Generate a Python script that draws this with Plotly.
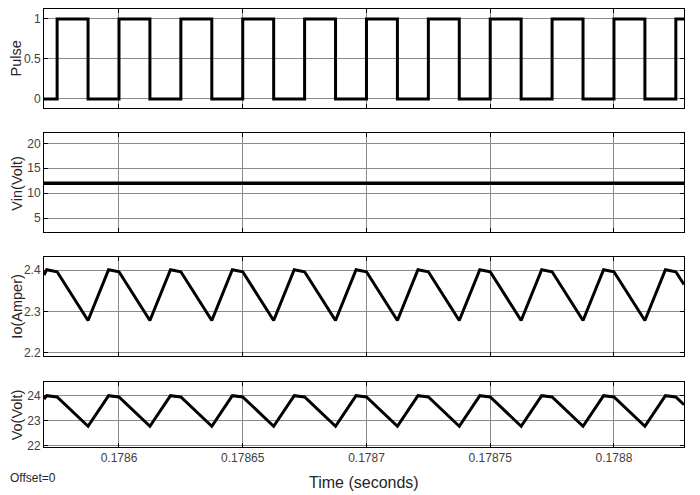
import plotly.graph_objects as go
from plotly.subplots import make_subplots

# ---- data ----
t_range = [0.1785697, 0.1788283]

pulse_t = [0.1785697, 0.178575, 0.1785875, 0.1786, 0.1786125, 0.178625, 0.1786375,
           0.17865, 0.1786625, 0.178675, 0.1786875, 0.1787, 0.1787125, 0.178725,
           0.1787375, 0.17875, 0.1787625, 0.178775, 0.1787875, 0.1788, 0.1788125,
           0.178825, 0.1788283]
pulse_v = [0, 1, 0, 1, 0, 1, 0, 1, 0, 1, 0, 1, 0, 1, 0, 1, 0, 1, 0, 1, 0, 1, 1]

vin_t = [0.1785697, 0.1788283]
vin_v = [12, 12]

io_t = [0.1785697, 0.1785708, 0.178575, 0.1785875, 0.1785958, 0.1786, 0.1786125,
        0.1786208, 0.178625, 0.1786375, 0.1786458, 0.17865, 0.1786625, 0.1786708,
        0.178675, 0.1786875, 0.1786958, 0.1787, 0.1787125, 0.1787208, 0.178725,
        0.1787375, 0.1787458, 0.17875, 0.1787625, 0.1787708, 0.178775, 0.1787875,
        0.1787958, 0.1788, 0.1788125, 0.1788208, 0.178825, 0.1788283]
io_v = [2.388, 2.401, 2.396, 2.278, 2.401, 2.396, 2.278, 2.401, 2.396, 2.278, 2.401,
        2.396, 2.278, 2.401, 2.396, 2.278, 2.401, 2.396, 2.278, 2.401, 2.396, 2.278,
        2.401, 2.396, 2.278, 2.401, 2.396, 2.278, 2.401, 2.396, 2.278, 2.401, 2.396,
        2.365]

vo_t = io_t
vo_v = [23.88, 24.01, 23.96, 22.79, 24.01, 23.96, 22.79, 24.01, 23.96, 22.79, 24.01,
        23.96, 22.79, 24.01, 23.96, 22.79, 24.01, 23.96, 22.79, 24.01, 23.96, 22.79,
        24.01, 23.96, 22.79, 24.01, 23.96, 22.79, 24.01, 23.96, 22.79, 24.01, 23.96,
        23.65]

x_tickvals = [0.1786, 0.17865, 0.1787, 0.17875, 0.1788]
x_ticktext = ["0.1786", "0.17865", "0.1787", "0.17875", "0.1788"]

y_titles = ["Pulse", "Vin(Volt)", "Io(Amper)", "Vo(Volt)"]
y_ranges = [[-0.113, 1.125], [2.26, 22.0], [2.192, 2.431], [21.96, 24.57]]
y_ticks = [[0, 0.5, 1], [5, 10, 15, 20], [2.2, 2.3, 2.4], [22, 23, 24]]
y_ticktext = [["0", "0.5", "1"], ["5", "10", "15", "20"], ["2.2", "2.3", "2.4"], ["22", "23", "24"]]

domains = [[0.774, 1.0], [0.4909, 0.7162], [0.2078, 0.4331], [0.0, 0.1491]]

# ---- figure ----
fig = make_subplots(rows=4, cols=1, shared_xaxes=False)

fig.add_trace(go.Scatter(x=pulse_t, y=pulse_v, mode="lines", line=dict(color="black", width=3, shape="hv")), row=1, col=1)
fig.add_trace(go.Scatter(x=vin_t, y=vin_v, mode="lines", line=dict(color="black", width=3.5)), row=2, col=1)
fig.add_trace(go.Scatter(x=io_t, y=io_v, mode="lines", line=dict(color="black", width=3)), row=3, col=1)
fig.add_trace(go.Scatter(x=vo_t, y=vo_v, mode="lines", line=dict(color="black", width=3)), row=4, col=1)

font_tick = dict(family="Liberation Sans, Arial, sans-serif", size=12, color="#404040")

for i in range(4):
    xa = "xaxis" if i == 0 else f"xaxis{i+1}"
    ya = "yaxis" if i == 0 else f"yaxis{i+1}"
    fig.layout[xa].update(
        range=t_range, domain=[0, 1], tickvals=x_tickvals, ticktext=x_ticktext,
        showticklabels=(i == 3), showgrid=True, gridcolor="#8a8a8a", gridwidth=1,
        zeroline=False, showline=True, linecolor="black", linewidth=1, mirror="ticks",
        ticks="inside", ticklen=4, tickcolor="black", tickfont=font_tick,
    )
    fig.layout[ya].update(
        range=y_ranges[i], domain=domains[i], tickvals=y_ticks[i], ticktext=y_ticktext[i],
        showgrid=True, gridcolor="#8a8a8a", gridwidth=1, zeroline=False,
        showline=True, linecolor="black", linewidth=1, mirror="ticks",
        ticks="inside", ticklen=4, tickcolor="black", tickfont=font_tick,
    )
    ref = "y domain" if i == 0 else f"y{i+1} domain"
    fig.add_annotation(
        text=y_titles[i], xref="paper", yref=ref, x=-0.0422, y=0.5,
        xanchor="center", yanchor="middle", textangle=-90, showarrow=False,
        font=dict(family="Liberation Sans, Arial, sans-serif", size=14.5, color="#262626"),
    )

fig.add_annotation(
    text="Time (seconds)", xref="paper", yref="paper", x=0.5, y=-0.08,
    xanchor="center", yanchor="middle", showarrow=False,
    font=dict(family="Liberation Sans, Arial, sans-serif", size=16, color="#262626"),
)
fig.add_annotation(
    text="Offset=0", xref="paper", yref="paper", x=-0.057, y=-0.071,
    xanchor="left", yanchor="middle", showarrow=False,
    font=dict(family="Liberation Sans, Arial, sans-serif", size=12, color="#262626"),
)

fig.update_layout(
    width=692, height=487, showlegend=False,
    margin=dict(l=36, r=16, t=1, b=48),
    paper_bgcolor="white", plot_bgcolor="white",
)

fig.write_html("out.html")
